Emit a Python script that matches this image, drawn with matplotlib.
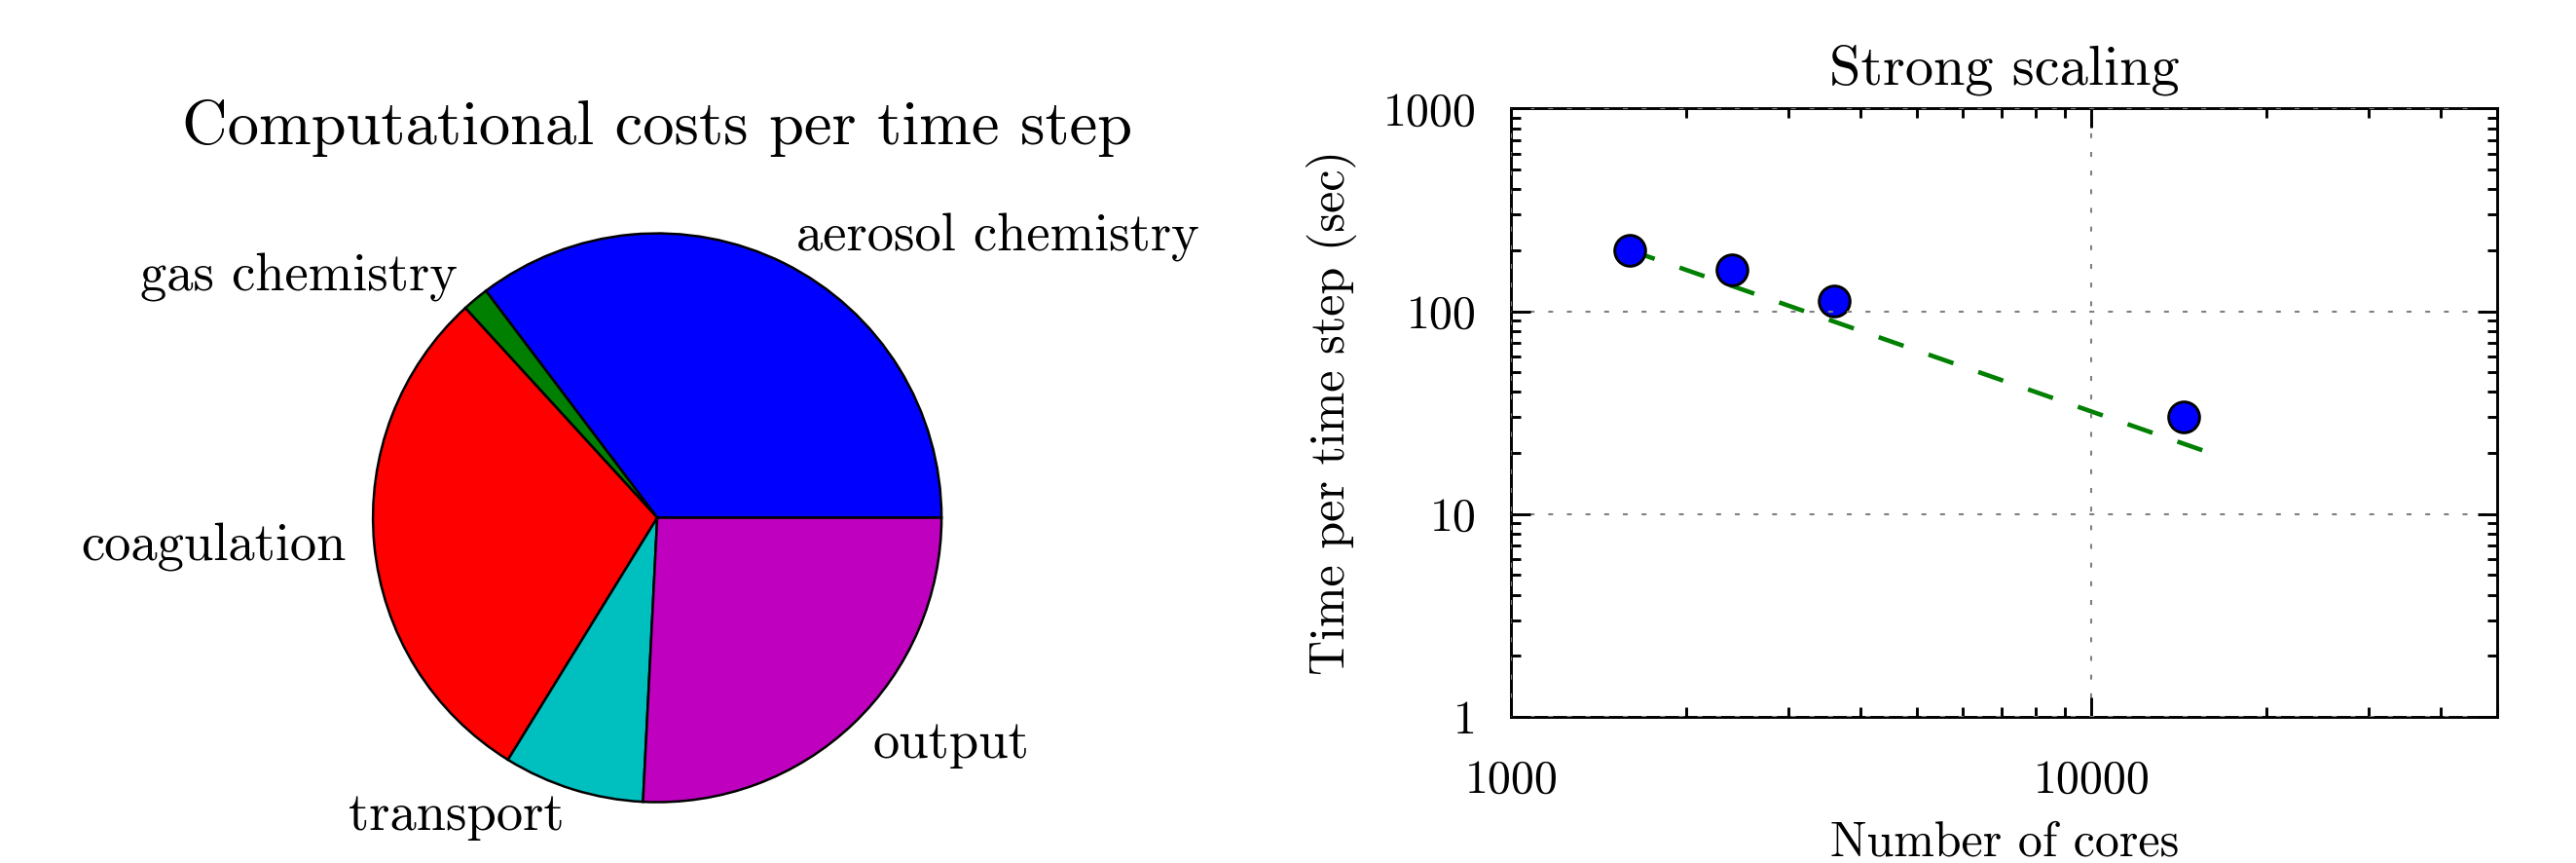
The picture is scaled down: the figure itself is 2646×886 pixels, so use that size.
import numpy as np
import matplotlib
matplotlib.use('Agg')
import matplotlib.pyplot as plt
from matplotlib.ticker import FixedLocator, FuncFormatter, LogLocator, NullFormatter

plt.rcParams['font.family'] = 'serif'
plt.rcParams['font.serif'] = ['cmr10']
plt.rcParams['mathtext.fontset'] = 'cm'
plt.rcParams['axes.unicode_minus'] = False
plt.rcParams['axes.formatter.use_mathtext'] = True
plt.rcParams['lines.scale_dashes'] = False

# ---- data ----
parts = ['aerosol chemistry', 'gas chemistry', 'coagulation', 'transport', 'output']
shares = [35.3, 1.5, 29.4, 8.0, 25.8]
part_colors = ['#0000ff', '#007f00', '#ff0000', '#00bfbf', '#bf00bf']

cores = [1600, 2400, 3600, 14400]
time_per_step = [200, 160, 112, 30]
ideal_cores = [1600, 16000]
ideal_time = [200, 20]

x_ticks = [1000, 10000]
y_ticks = [1, 10, 100, 1000]

fig = plt.figure(figsize=(2646/300, 886/300), dpi=300)

# ---- pie ----
ax1 = fig.add_axes([0.1448, 0.0686, 0.2207, 0.6629])
ax1.pie(shares, labels=parts, colors=part_colors, startangle=0,
        wedgeprops=dict(edgecolor='black', linewidth=0.6),
        textprops=dict(fontsize=13.1))
ax1.set_xlim(-1, 1)
ax1.set_ylim(-1, 1)
ax1.set_aspect('equal')
ax1.set_title('Computational costs per time step', fontsize=15.5, pad=22)

# ---- strong scaling ----
ax2 = fig.add_axes([0.5867, 0.1695, 0.3827, 0.7048])
ax2.plot(ideal_cores, ideal_time, color='#007f00', lw=1.1, ls=(0, (6.5, 6.5)))
ax2.plot(cores, time_per_step, 'o', color='#0000ff', markersize=7.6,
         markeredgecolor='black', markeredgewidth=0.7)
ax2.set_xscale('log')
ax2.set_yscale('log')
ax2.set_xlim(1000, 50000)
ax2.set_ylim(1, 1000)

fmt = FuncFormatter(lambda v, p: '%d' % int(round(v)))
ax2.xaxis.set_major_locator(FixedLocator(x_ticks))
ax2.yaxis.set_major_locator(FixedLocator(y_ticks))
ax2.xaxis.set_major_formatter(fmt)
ax2.yaxis.set_major_formatter(fmt)
ax2.xaxis.set_minor_locator(LogLocator(base=10, subs=np.arange(2, 10)))
ax2.yaxis.set_minor_locator(LogLocator(base=10, subs=np.arange(2, 10)))
ax2.xaxis.set_minor_formatter(NullFormatter())
ax2.yaxis.set_minor_formatter(NullFormatter())

ax2.tick_params(which='both', direction='in', top=True, right=True, width=0.7)
ax2.tick_params(which='major', length=4.8)
ax2.tick_params(which='minor', length=2.4)
ax2.tick_params(axis='x', which='major', labelsize=11.5, pad=10.5)
ax2.tick_params(axis='y', which='major', labelsize=11.5, pad=8.5)
for s in ax2.spines.values():
    s.set_linewidth(0.7)

ax2.grid(True, which='major', color='0.5', lw=0.5, ls=(0, (1.2, 3.4)))
ax2.set_axisbelow(False)

ax2.set_title('Strong scaling', fontsize=14, pad=6)
ax2.set_xlabel('Number of cores', fontsize=12, labelpad=4.5)
ax2.set_ylabel('Time per time step (sec)', fontsize=12, labelpad=6.5)

fig.savefig('out.png', dpi=300)
